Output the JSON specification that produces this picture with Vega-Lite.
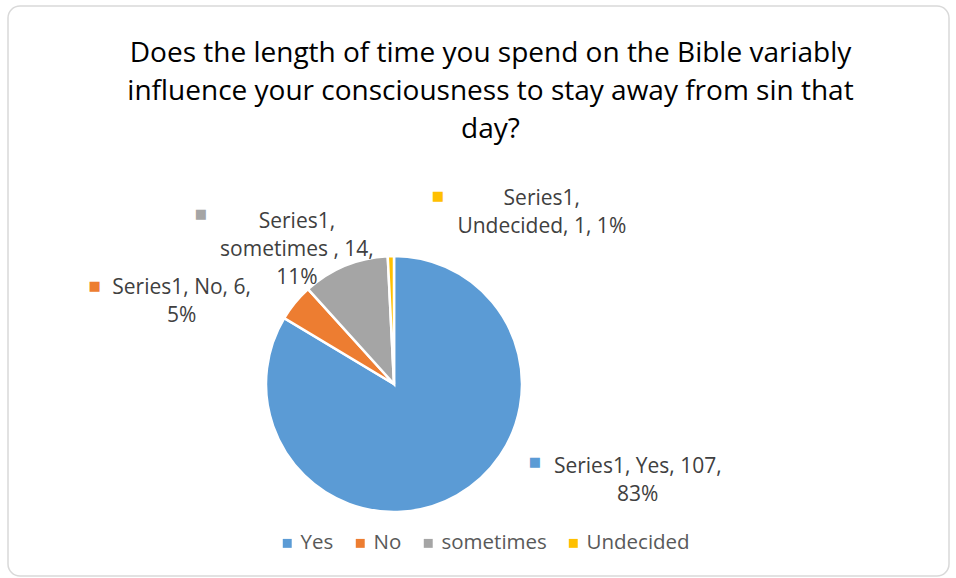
{
  "$schema": "https://vega.github.io/schema/vega-lite/v6.json",
  "width": 956,
  "height": 578,
  "autosize": {"type": "fit", "contains": "padding"},
  "padding": {"left": 8, "top": 6, "right": 7, "bottom": 2},
  "background": "white",
  "view": {"stroke": "#d9d9d9", "strokeWidth": 1.5, "cornerRadius": 12, "fill": "white"},
  "config": {"font": "Open Sans"},
  "title": {
    "text": ["Does the length of time you spend on the Bible variably", "influence your consciousness to stay away from sin that", "day?"],
    "font": "Open Sans", "fontSize": 28, "fontWeight": "normal", "color": "#000000",
    "lineHeight": 38, "anchor": "middle", "offset": -138, "dx": 12
  },
  "data": {"values": [
    {"answer": "Yes", "count": 107, "order": 1, "label": "Series1, Yes, 107,\n83%"},
    {"answer": "No", "count": 6, "order": 2, "label": "Series1, No, 6,\n5%"},
    {"answer": "sometimes", "count": 14, "order": 3, "label": "Series1,\nsometimes , 14,\n11%"},
    {"answer": "Undecided", "count": 1, "order": 4, "label": "Series1,\nUndecided, 1, 1%"}
  ]},
  "encoding": {
    "theta": {"field": "count", "type": "quantitative", "stack": true},
    "order": {"field": "order", "type": "quantitative"}
  },
  "layer": [
    {
      "mark": {"type": "arc", "outerRadius": 128, "stroke": "white", "strokeWidth": 2.5, "x": {"expr": "width/2-84.5"}, "y": {"expr": "height/2+93"}},
      "encoding": {
        "color": {
          "field": "answer", "type": "nominal",
          "scale": {"domain": ["Yes", "No", "sometimes", "Undecided"], "range": ["#5B9BD5", "#ED7D31", "#A5A5A5", "#FFC000"]},
          "legend": {"orient": "none", "legendX": 269, "legendY": 527, "direction": "horizontal", "title": null, "symbolType": "square", "symbolSize": 80, "symbolStrokeWidth": 0, "labelFontSize": 20.5, "labelFont": "Open Sans", "labelColor": "#595959", "columnPadding": 16, "labelOffset": 3, "padding": 0}
        }
      }
    },
    {"mark": {"type": "text", "radius": 170, "x": {"expr": "width/2-84.5"}, "y": {"expr": "height/2+93"}, "dx": 160, "dy": -65, "font": "Open Sans", "fontSize": 21, "color": "#404040", "lineHeight": 28, "lineBreak": "\n", "align": "center", "baseline": "middle"},
     "encoding": {"text": {"condition": {"test": "datum.answer === 'Yes'", "field": "label"}, "value": ""}}},
    {"mark": {"type": "text", "radius": 170, "x": {"expr": "width/2-84.5"}, "y": {"expr": "height/2+93"}, "dx": -81, "dy": 12, "font": "Open Sans", "fontSize": 21, "color": "#404040", "lineHeight": 28, "lineBreak": "\n", "align": "center", "baseline": "middle"},
     "encoding": {"text": {"condition": {"test": "datum.answer === 'No'", "field": "label"}, "value": ""}}},
    {"mark": {"type": "text", "radius": 170, "x": {"expr": "width/2-84.5"}, "y": {"expr": "height/2+93"}, "dx": -32, "dy": -5, "font": "Open Sans", "fontSize": 21, "color": "#404040", "lineHeight": 28, "lineBreak": "\n", "align": "center", "baseline": "middle"},
     "encoding": {"text": {"condition": {"test": "datum.answer === 'sometimes'", "field": "label"}, "value": ""}}},
    {"mark": {"type": "text", "radius": 170, "x": {"expr": "width/2-84.5"}, "y": {"expr": "height/2+93"}, "dx": 152, "dy": -15, "font": "Open Sans", "fontSize": 21, "color": "#404040", "lineHeight": 28, "lineBreak": "\n", "align": "center", "baseline": "middle"},
     "encoding": {"text": {"condition": {"test": "datum.answer === 'Undecided'", "field": "label"}, "value": ""}}},
    {"mark": {"type": "text", "radius": 170, "x": {"expr": "width/2-84.5"}, "y": {"expr": "height/2+93"}, "dx": 57, "dy": -70, "font": "DejaVu Sans", "fontSize": 13, "color": "#5B9BD5", "align": "center", "baseline": "middle"},
     "encoding": {"text": {"condition": {"test": "datum.answer === 'Yes'", "value": "■"}, "value": ""}}},
    {"mark": {"type": "text", "radius": 170, "x": {"expr": "width/2-84.5"}, "y": {"expr": "height/2+93"}, "dx": -168, "dy": 10, "font": "DejaVu Sans", "fontSize": 13, "color": "#ED7D31", "align": "center", "baseline": "middle"},
     "encoding": {"text": {"condition": {"test": "datum.answer === 'No'", "value": "■"}, "value": ""}}},
    {"mark": {"type": "text", "radius": 170, "x": {"expr": "width/2-84.5"}, "y": {"expr": "height/2+93"}, "dx": -128, "dy": -13, "font": "DejaVu Sans", "fontSize": 13, "color": "#A5A5A5", "align": "center", "baseline": "middle"},
     "encoding": {"text": {"condition": {"test": "datum.answer === 'sometimes'", "value": "■"}, "value": ""}}},
    {"mark": {"type": "text", "radius": 170, "x": {"expr": "width/2-84.5"}, "y": {"expr": "height/2+93"}, "dx": 48, "dy": -18, "font": "DejaVu Sans", "fontSize": 13, "color": "#FFC000", "align": "center", "baseline": "middle"},
     "encoding": {"text": {"condition": {"test": "datum.answer === 'Undecided'", "value": "■"}, "value": ""}}}
  ]
}
